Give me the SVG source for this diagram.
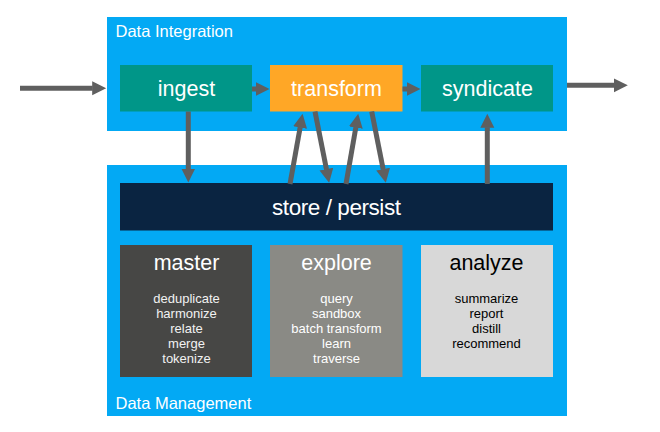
<svg xmlns="http://www.w3.org/2000/svg" width="660" height="432" viewBox="0 0 660 432">
<style>
text{font-family:"Liberation Sans",Arial,sans-serif;}
.panel{fill:#03A9F4;}
.plabel{fill:#ffffff;font-size:16.5px;}
.node-label{fill:#ffffff;font-size:21.5px;text-anchor:middle;}
.title{font-size:21.5px;text-anchor:middle;}
.item{font-size:13px;text-anchor:middle;}
.conn{stroke:#5F5F5F;stroke-width:5;fill:none;marker-end:url(#ah);}
</style>
<defs>
<marker id="ah" markerUnits="userSpaceOnUse" markerWidth="15" markerHeight="15" refX="0.5" refY="7" orient="auto" viewBox="0 0 15 15">
<path d="M0,0 L14,7 L0,14 z" fill="#5F5F5F"/>
</marker>
</defs>
<rect width="660" height="432" fill="#ffffff"/>
<g id="data-integration">
<rect class="panel" x="107" y="17" width="460" height="114"/>
<text class="plabel" x="115.5" y="37">Data Integration</text>
</g>
<g id="data-management">
<rect class="panel" x="107" y="165" width="460" height="251"/>
<text class="plabel" x="115.5" y="409.3">Data Management</text>
</g>
<g id="ingest">
<rect x="120" y="65" width="132" height="46.5" fill="#009688"/>
<text class="node-label" x="186.5" y="96">ingest</text>
</g>
<g id="transform">
<rect x="270" y="65" width="132.5" height="46.5" fill="#FFA726"/>
<text class="node-label" x="336.5" y="96">transform</text>
</g>
<g id="syndicate">
<rect x="421" y="65" width="132" height="46.5" fill="#009688"/>
<text class="node-label" x="487.5" y="96">syndicate</text>
</g>
<g id="store">
<rect x="120" y="183" width="433" height="47.5" fill="#0A2441"/>
<text class="node-label" x="336.5" y="215" style="font-size:22.5px" textLength="129" lengthAdjust="spacing">store / persist</text>
</g>
<g id="master">
<rect x="120" y="245" width="132" height="132" fill="#474745"/>
<text class="title" x="186.5" y="270" fill="#ffffff">master</text>
<g class="item" fill="#F2F2F2">
<text x="186.5" y="302.7">deduplicate</text>
<text x="186.5" y="317.7">harmonize</text>
<text x="186.5" y="333.2">relate</text>
<text x="186.5" y="348.3">merge</text>
<text x="186.5" y="363.3">tokenize</text>
</g>
</g>
<g id="explore">
<rect x="270" y="245" width="132.5" height="132" fill="#8A8A85"/>
<text class="title" x="336.5" y="270" fill="#ffffff">explore</text>
<g class="item" fill="#ffffff">
<text x="336.5" y="302.7">query</text>
<text x="336.5" y="317.7">sandbox</text>
<text x="336.5" y="333.2">batch transform</text>
<text x="336.5" y="348.3">learn</text>
<text x="336.5" y="363.3">traverse</text>
</g>
</g>
<g id="analyze">
<rect x="421" y="245" width="132" height="132" fill="#D8D8D8"/>
<text class="title" x="486.5" y="270" fill="#000000">analyze</text>
<g class="item" fill="#000000">
<text x="486.5" y="302.7">summarize</text>
<text x="486.5" y="317.7">report</text>
<text x="486.5" y="333.2">distill</text>
<text x="486.5" y="348.3">recommend</text>
</g>
</g>
<g id="connectors">
<path class="conn" d="M20,88.3 L92.7,88.3"/>
<path class="conn" d="M252,89 L256,89"/>
<path class="conn" d="M402.5,89 L407,89"/>
<path class="conn" d="M567,85.3 L614.3,85.3"/>
<path class="conn" d="M188.3,111.5 L188.3,169"/>
<path class="conn" d="M290,184 L300.2,127.1"/>
<path class="conn" d="M315,111.5 L326.5,169.6"/>
<path class="conn" d="M346,184 L355.9,127.1"/>
<path class="conn" d="M371.7,111.5 L383.2,169.6"/>
<path class="conn" d="M487.3,184 L487.3,127.3"/>
</g>
</svg>
